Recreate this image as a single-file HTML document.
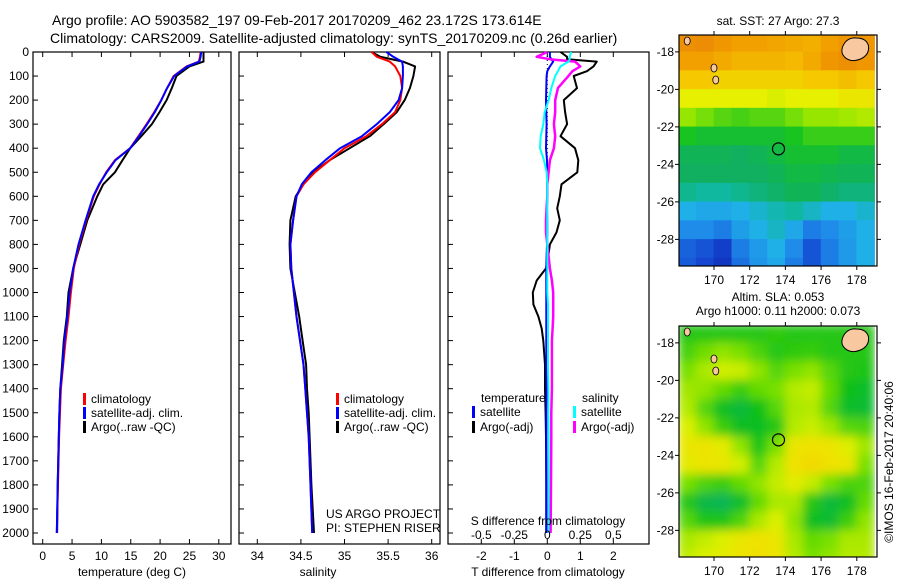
<!DOCTYPE html>
<html><head><meta charset="utf-8"><style>
html,body{margin:0;padding:0;background:#fff;}
svg{display:block;font-family:"Liberation Sans",sans-serif;}
</style></head><body>
<svg id="fig" width="900" height="580" viewBox="0 0 900 580" xmlns="http://www.w3.org/2000/svg">
<text x="52" y="25" font-size="14">Argo profile: AO 5903582_197 09-Feb-2017 20170209_462 23.172S 173.614E</text>
<text x="50" y="43" font-size="14">Climatology: CARS2009. Satellite-adjusted climatology: synTS_20170209.nc (0.26d earlier)</text>
<g id="p1"></g>
<g id="p2"></g>
<g id="p3"></g>
<g id="m1"></g>
<g id="m2"></g>
<text x="778" y="25" font-size="12" text-anchor="middle">sat. SST: 27 Argo: 27.3</text>
<text x="778" y="301" font-size="12" text-anchor="middle">Altim. SLA: 0.053</text>
<text x="778" y="315" font-size="12" text-anchor="middle">Argo h1000: 0.11 h2000: 0.073</text>
<text x="0" y="0" font-size="12" text-anchor="middle" transform="translate(893,462) rotate(-90)">©IMOS 16-Feb-2017 20:40:06</text>
</svg>
<script>
// ---------- profile data ----------
const depths = [0,20,40,60,100,150,200,250,300,350,400,450,500,550,600,700,800,900,1000,1100,1200,1300,1400,1500,1600,1800,2000];
const tempClim = [26.9,26.8,26.6,24.5,22.3,21.2,20.2,19.0,17.7,16.3,14.9,12.3,10.8,9.7,8.7,7.4,6.2,5.3,4.8,4.4,3.9,3.5,3.1,2.95,2.8,2.6,2.4];
const tempSat  = [27.0,26.9,26.7,24.6,22.4,21.2,20.2,19.1,17.8,16.4,14.9,12.4,10.9,9.6,8.6,7.3,6.1,5.2,4.6,4.2,3.7,3.4,3.0,2.85,2.75,2.55,2.4];
const tempArgo = [27.4,27.4,27.4,25.0,22.8,22.0,21.1,19.9,18.6,16.8,14.9,13.6,12.3,10.3,9.3,7.6,6.4,5.2,4.4,4.1,3.6,3.3,3.0,2.85,2.75,2.55,2.45];
const salClim  = [35.31,35.37,35.52,35.58,35.64,35.66,35.64,35.58,35.43,35.25,35.0,34.83,34.66,34.53,34.45,34.41,34.38,34.39,34.42,34.45,34.49,34.53,34.55,34.57,34.59,34.61,34.63];
const salSat   = [35.48,35.56,35.66,35.67,35.67,35.66,35.62,35.52,35.37,35.2,34.95,34.78,34.62,34.51,34.45,34.41,34.38,34.39,34.42,34.45,34.49,34.53,34.55,34.57,34.59,34.61,34.63];
const salArgo  = [35.31,35.41,35.67,35.81,35.79,35.75,35.69,35.6,35.45,35.29,35.06,34.83,34.64,34.53,34.44,34.38,34.37,34.38,34.43,34.48,34.52,34.56,34.57,34.59,34.6,34.62,34.65];
// difference panel
const diffDepths = [0,20,30,40,60,80,100,150,200,250,300,350,400,450,500,550,600,650,700,750,800,850,900,950,1000,1050,1100,1150,1200,1300,1400,1500,1600,1800,2000];
const dTsat  = [0.08,0.08,0.12,0.18,0.08,0.0,-0.02,-0.03,-0.04,-0.03,-0.02,-0.03,-0.04,-0.01,0.0,0.0,0.0,-0.01,0.0,0.0,-0.01,-0.02,-0.03,-0.03,-0.03,-0.03,-0.03,-0.03,-0.03,-0.03,-0.02,-0.03,-0.03,-0.03,-0.03];
const dTargo = [0.4,0.6,0.6,1.5,1.4,1.2,0.8,0.9,0.5,0.54,0.6,0.4,0.84,0.94,0.91,0.43,0.38,0.3,0.38,0.28,0.08,0.03,-0.04,-0.32,-0.44,-0.42,-0.27,-0.17,-0.12,-0.07,-0.07,-0.05,-0.04,-0.03,-0.03];
const dSsat  = [0.18,0.17,0.17,0.16,0.1,0.08,0.06,0.03,0.01,-0.02,-0.03,-0.05,-0.055,-0.025,-0.005,0.0,0.0,0.0,0.0,0.0,0.0,0.0,0.0,0.0,0.0,0.005,0.005,0.005,0.005,0.005,0.008,0.008,0.01,0.01,0.01];
const dSargo = [0.0,-0.08,0.02,0.21,0.25,0.19,0.16,0.08,0.06,0.06,0.05,0.06,0.05,0.02,0.01,0.0,0.0,-0.005,-0.01,-0.01,0.0,0.01,0.02,0.035,0.045,0.045,0.045,0.04,0.035,0.035,0.035,0.03,0.03,0.028,0.025];
const depthTicks = [0,100,200,300,400,500,600,700,800,900,1000,1100,1200,1300,1400,1500,1600,1700,1800,1900,2000];
const tempTicks = [0,5,10,15,20,25,30];
const salTicks = [34,34.5,35,35.5,36];
const salTickLabels = ["34","34.5","35","35.5","36"];
const sdTicks = [-0.5,-0.25,0,0.25,0.5];
const sdTickLabels = ["-0.5","-0.25","0","0.25","0.5"];
const tdTicks = [-2,-1,0,1,2];
// ---------- map data (grid values 0..1, rows north->south, cols west->east, 1 deg) ----------
const mapLons = [168.5,169.5,170.5,171.5,172.5,173.5,174.5,175.5,176.5,177.5,178.5];
const mapLats = [-17.5,-18.5,-19.5,-20.5,-21.5,-22.5,-23.5,-24.5,-25.5,-26.5,-27.5,-28.5,-29.5];
const sstGrid = [
[0.92,0.93,0.9,0.88,0.88,0.87,0.86,0.85,0.88,0.9,0.9],
[0.88,0.88,0.86,0.84,0.84,0.84,0.83,0.86,0.9,0.92,0.9],
[0.8,0.8,0.78,0.78,0.78,0.78,0.78,0.8,0.8,0.82,0.8],
[0.72,0.72,0.72,0.72,0.72,0.7,0.72,0.72,0.72,0.74,0.74],
[0.6,0.58,0.56,0.55,0.56,0.56,0.58,0.6,0.6,0.62,0.64],
[0.52,0.5,0.5,0.5,0.5,0.5,0.52,0.54,0.54,0.54,0.54],
[0.46,0.46,0.46,0.45,0.46,0.48,0.5,0.5,0.5,0.48,0.48],
[0.45,0.45,0.45,0.45,0.45,0.46,0.48,0.48,0.47,0.46,0.46],
[0.4,0.38,0.38,0.4,0.42,0.44,0.46,0.46,0.44,0.42,0.42],
[0.3,0.28,0.28,0.3,0.33,0.36,0.38,0.34,0.3,0.3,0.33],
[0.22,0.22,0.2,0.26,0.3,0.34,0.28,0.2,0.22,0.26,0.3],
[0.16,0.14,0.1,0.2,0.25,0.3,0.22,0.14,0.2,0.25,0.3],
[0.15,0.12,0.08,0.18,0.24,0.28,0.2,0.14,0.2,0.25,0.3]];
const slaGrid = [
[0.3,0.3,0.3,0.3,0.3,0.32,0.3,0.3,0.3,0.3,0.3],
[0.38,0.48,0.55,0.5,0.4,0.3,0.32,0.34,0.3,0.3,0.3],
[0.5,0.6,0.68,0.66,0.55,0.42,0.5,0.55,0.42,0.3,0.28],
[0.58,0.55,0.45,0.35,0.45,0.5,0.62,0.65,0.45,0.25,0.2],
[0.62,0.42,0.22,0.15,0.25,0.42,0.6,0.62,0.42,0.2,0.18],
[0.7,0.55,0.35,0.22,0.22,0.3,0.62,0.66,0.58,0.42,0.4],
[0.8,0.82,0.75,0.55,0.28,0.5,0.8,0.85,0.82,0.72,0.58],
[0.76,0.82,0.8,0.68,0.42,0.62,0.85,0.9,0.85,0.8,0.5],
[0.5,0.4,0.35,0.45,0.55,0.65,0.75,0.65,0.5,0.4,0.4],
[0.3,0.12,0.08,0.2,0.45,0.6,0.6,0.3,0.15,0.22,0.45],
[0.42,0.28,0.28,0.4,0.6,0.7,0.55,0.22,0.18,0.35,0.55],
[0.6,0.65,0.7,0.8,0.85,0.8,0.6,0.45,0.5,0.6,0.6],
[0.65,0.7,0.75,0.82,0.86,0.82,0.62,0.5,0.55,0.62,0.62]];
const mapLonTicks = [170,172,174,176,178];
const mapLatTicks = [-18,-20,-22,-24,-26,-28];
const argoLon = 173.614, argoLat = -23.172;

const NS = "http://www.w3.org/2000/svg";
function mk(parent, tag, attrs, text){
  const e = document.createElementNS(NS, tag);
  for (const k in attrs) e.setAttribute(k, attrs[k]);
  if (text !== undefined) e.textContent = text;
  parent.appendChild(e); return e;
}
const TOP=52, BOT=544;
const yD = d => 52 + d*0.2405;

function panelFrame(g, x0, x1, name){
  const r = mk(g,'rect',{x:x0,y:TOP,width:x1-x0,height:BOT-TOP,fill:'none',stroke:'#000','stroke-width':1.2});
  
  
}
function line(g, xs, ds, xf, color, w, name){
  const pts = xs.map((v,i)=> xf(v).toFixed(1)+','+yD(ds[i]).toFixed(1)).join(' ');
  const p = mk(g,'polyline',{points:pts,fill:'none',stroke:color,'stroke-width':w,'stroke-linejoin':'round'});
  
  
}
function legendItem(g, x, y, color, label, name){
  const m = mk(g,'rect',{x:x,y:y-10,width:3,height:12,fill:color});
  
  
  const t = mk(g,'text',{x:x+8,y:y,'font-size':12},label);
  
  
}

// ---------- panel 1: temperature ----------
const p1 = document.getElementById('p1');
const xT = t => 42.7 + t*5.87;
panelFrame(p1, 33, 231, 'temperature');
depthTicks.forEach(d=>{
  mk(p1,'line',{x1:33,x2:38,y1:yD(d),y2:yD(d),stroke:'#000'});
  const t = mk(p1,'text',{x:29,y:yD(d)+4,'font-size':12,'text-anchor':'end'},String(d));
  
  
});
tempTicks.forEach(v=>{
  mk(p1,'line',{x1:xT(v),x2:xT(v),y1:TOP,y2:TOP+5,stroke:'#000'});
  mk(p1,'line',{x1:xT(v),x2:xT(v),y1:BOT,y2:BOT-5,stroke:'#000'});
  const t = mk(p1,'text',{x:xT(v),y:560,'font-size':12,'text-anchor':'middle'},String(v));
  
  
});
mk(p1,'text',{x:132,y:576,'font-size':12,'text-anchor':'middle',},'temperature (deg C)');
line(p1, tempArgo, depths, xT, '#000', 2, 'temperature-argo-line');
line(p1, tempClim, depths, xT, '#f00', 2, 'temperature-climatology-line');
line(p1, tempSat, depths, xT, '#00f', 2, 'temperature-satellite-line');
legendItem(p1, 83, 403, '#f00', 'climatology', 'legend-climatology');
legendItem(p1, 83, 417, '#00f', 'satellite-adj. clim.', 'legend-satellite');
legendItem(p1, 83, 431, '#000', 'Argo(..raw -QC)', 'legend-argo');

// ---------- panel 2: salinity ----------
const p2 = document.getElementById('p2');
const xS = s => 257.3 + (s-34)*87.2;
panelFrame(p2, 239, 440, 'salinity');
depthTicks.forEach(d=>{
  mk(p2,'line',{x1:239,x2:244,y1:yD(d),y2:yD(d),stroke:'#000'});
});
salTicks.forEach((v,i)=>{
  mk(p2,'line',{x1:xS(v),x2:xS(v),y1:TOP,y2:TOP+5,stroke:'#000'});
  mk(p2,'line',{x1:xS(v),x2:xS(v),y1:BOT,y2:BOT-5,stroke:'#000'});
  const t = mk(p2,'text',{x:xS(v),y:560,'font-size':12,'text-anchor':'middle'},salTickLabels[i]);
  
  
});
mk(p2,'text',{x:318,y:576,'font-size':12,'text-anchor':'middle',},'salinity');
line(p2, salArgo, depths, xS, '#000', 2, 'salinity-argo-line');
line(p2, salClim, depths, xS, '#f00', 2, 'salinity-climatology-line');
line(p2, salSat, depths, xS, '#00f', 2, 'salinity-satellite-line');
legendItem(p2, 336, 403, '#f00', 'climatology', 'legend2-climatology');
legendItem(p2, 336, 417, '#00f', 'satellite-adj. clim.', 'legend2-satellite');
legendItem(p2, 336, 431, '#000', 'Argo(..raw -QC)', 'legend2-argo');
mk(p2,'text',{x:326,y:518,'font-size':12,},'US ARGO PROJECT');
mk(p2,'text',{x:326,y:532,'font-size':12,},'PI: STEPHEN RISER');

// ---------- panel 3: differences ----------
const p3 = document.getElementById('p3');
const xDT = t => 547.3 + t*33;
const xDS = s => 547.3 + s*132;
panelFrame(p3, 448, 649, 'difference');
depthTicks.forEach(d=>{
  mk(p3,'line',{x1:448,x2:453,y1:yD(d),y2:yD(d),stroke:'#000'});
});
tdTicks.forEach(v=>{
  mk(p3,'line',{x1:xDT(v),x2:xDT(v),y1:TOP,y2:TOP+5,stroke:'#000'});
  mk(p3,'line',{x1:xDT(v),x2:xDT(v),y1:BOT,y2:BOT-5,stroke:'#000'});
  const t = mk(p3,'text',{x:xDT(v),y:560,'font-size':12,'text-anchor':'middle'},String(v));
  
  
});
mk(p3,'line',{x1:547.3,x2:547.3,y1:yD(0),y2:yD(520),stroke:'#000','stroke-dasharray':'1,3',});
line(p3, dTargo, diffDepths, xDT, '#000', 2, 't-diff-argo-line');
line(p3, dTsat, diffDepths, xDT, '#00f', 2, 't-diff-satellite-line');
line(p3, dSargo, diffDepths, xDS, '#f0f', 2.5, 's-diff-argo-line');
line(p3, dSsat, diffDepths, xDS, '#0ff', 2, 's-diff-satellite-line');
sdTicks.forEach((v,i)=>{
  const t = mk(p3,'text',{x:xDS(v),y:539,'font-size':12,'text-anchor':'middle'},sdTickLabels[i]);
  
  
});
mk(p3,'text',{x:548,y:525,'font-size':12,'text-anchor':'middle',},'S difference from climatology');
mk(p3,'text',{x:548,y:576,'font-size':12,'text-anchor':'middle',},'T difference from climatology');
mk(p3,'text',{x:481,y:402,'font-size':12,},'temperature');
mk(p3,'text',{x:582,y:402,'font-size':12,},'salinity');
legendItem(p3, 472, 416, '#00f', 'satellite', 'legend3-t-satellite');
legendItem(p3, 472, 431, '#000', 'Argo(-adj)', 'legend3-t-argo');
legendItem(p3, 573, 416, '#0ff', 'satellite', 'legend3-s-satellite');
legendItem(p3, 573, 431, '#f0f', 'Argo(-adj)', 'legend3-s-argo');

// ---------- maps ----------
function interp(stops, v){
  v = Math.max(0, Math.min(1, v));
  for (let i=1;i<stops.length;i++){
    if (v <= stops[i][0]){
      const a=stops[i-1], b=stops[i], f=(v-a[0])/(b[0]-a[0]);
      const c=[0,1,2].map(k=>Math.round(a[1][k]+(b[1][k]-a[1][k])*f));
      return 'rgb('+c.join(',')+')';
    }
  }
  return 'rgb('+stops[stops.length-1][1].join(',')+')';
}
const sstStops=[[0,[10,24,160]],[0.12,[20,70,210]],[0.22,[30,140,232]],[0.3,[32,176,232]],[0.38,[16,184,160]],[0.45,[16,176,96]],[0.52,[24,196,32]],[0.6,[150,230,0]],[0.72,[230,240,0]],[0.8,[245,200,0]],[0.9,[240,150,0]],[1,[225,120,16]]];
const slaStops=[[0,[16,176,112]],[0.25,[16,192,24]],[0.5,[120,224,0]],[0.7,[220,240,0]],[0.85,[240,225,0]],[1,[245,200,0]]];

function drawMap(g, top, grid, stops, name, blur){
  const L=679, R=877, B=top+231;
  const xL = lon => L + (lon-168.04)*17.85;
  const yL = lat => top + (-17.1 - lat)*18.75;
  const cid = name+'-clip';
  const defs = mk(g,'defs',{});
  const cp = mk(defs,'clipPath',{id:cid});
  mk(cp,'rect',{x:L,y:top,width:R-L,height:B-top});
  if (blur){
    const f=mk(defs,'filter',{id:name+'-blur',x:'0',y:'0',width:'1',height:'1'});
    mk(f,'feGaussianBlur',{stdDeviation:5,edgeMode:'duplicate'});
  }
  const outer = mk(g,'g',{'clip-path':'url(#'+cid+')'});
  const cells = mk(outer,'g', blur?{filter:'url(#'+name+'-blur)'}:{});
  grid.forEach((row,i)=>row.forEach((v,j)=>{
    const x0=xL(mapLons[j]-0.5), x1=xL(mapLons[j]+0.5), y0=yL(mapLats[i]+0.5), y1=yL(mapLats[i]-0.5);
    const r = mk(cells,'rect',{x:x0-0.3,y:y0-0.3,width:x1-x0+0.6,height:y1-y0+0.6,fill:interp(stops,v)});
    
    
  }));
  const land = mk(outer,'path',{d:`M${xL(177.2)},${top+12} q4,-10 14,-9 q10,0 12,8 q1,9 -8,13 q-10,4 -16,-2 q-4,-4 -2,-10z`,fill:'#f8c8a0',stroke:'#000','stroke-width':1});
  
  
  [[168.5,top+6],[170,top+33],[170.1,top+45]].forEach(p=>{
    const e = mk(outer,'ellipse',{cx:xL(p[0]),cy:p[1],rx:3,ry:4,fill:'#f8c8a0',stroke:'#000','stroke-width':0.8});
    
    
  });
  mk(g,'rect',{x:L,y:top,width:R-L,height:B-top,fill:'none',stroke:'#000','stroke-width':1.2,});
  mapLonTicks.forEach(v=>{
    mk(g,'line',{x1:xL(v),x2:xL(v),y1:top,y2:top-4,stroke:'#000'});
    mk(g,'line',{x1:xL(v),x2:xL(v),y1:B,y2:B+4,stroke:'#000'});
    const t = mk(g,'text',{x:xL(v),y:B+18,'font-size':12,'text-anchor':'middle'},String(v));
    
    
  });
  mapLatTicks.forEach(v=>{
    mk(g,'line',{x1:R,x2:R+4,y1:yL(v),y2:yL(v),stroke:'#000'});
    mk(g,'line',{x1:L,x2:L-4,y1:yL(v),y2:yL(v),stroke:'#000'});
    const t = mk(g,'text',{x:L-5,y:yL(v)+4,'font-size':12,'text-anchor':'end'},String(v));
    
    
  });
  const c = mk(g,'circle',{cx:xL(argoLon),cy:yL(argoLat),r:6,fill:'none',stroke:'#000','stroke-width':1.2});
  
  
}
drawMap(document.getElementById('m1'), 35, sstGrid, sstStops, 'sst-map', false);
drawMap(document.getElementById('m2'), 326, slaGrid, slaStops, 'sla-map', true);
</script>
</body></html>
